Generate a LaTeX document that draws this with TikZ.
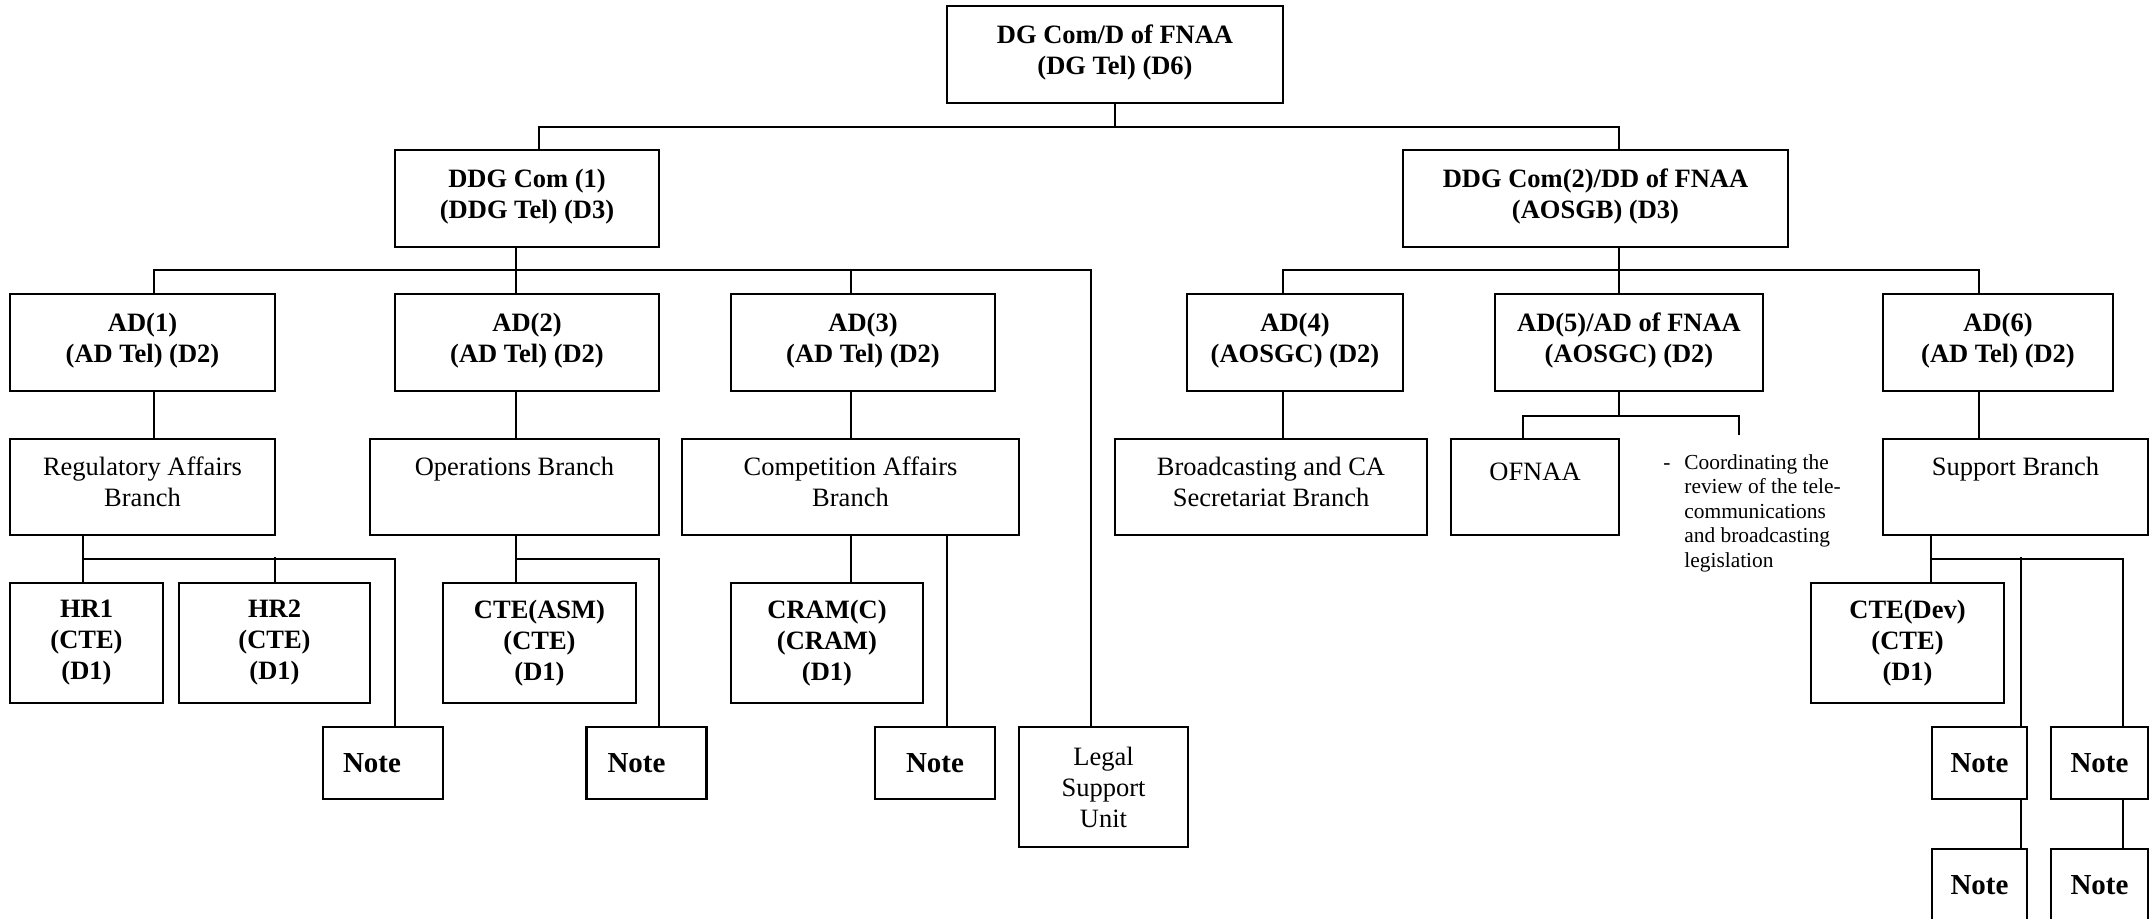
\documentclass[tikz,border=0pt]{standalone}
\usepackage{fontspec}
\setmainfont{Liberation Serif}
\usetikzlibrary{arrows, positioning}

\begin{document}
\begin{tikzpicture}[x=0.5pt, y=-0.5pt]
	\tikzset {box/.style={draw, line width=1.1pt, align=center, inner sep=0pt, font=\fontsize{13.25}{15.5}\selectfont}, head/.style={box, font=\fontsize{13.25}{15.5}\selectfont\bfseries, minimum height=48.5pt, execute at end node=\rule[-4.6pt]{0pt}{4.6pt}}, branch/.style={box, minimum height=48pt, execute at end node=\rule[-5.5pt]{0pt}{5.5pt}}, post/.style={box, font=\fontsize{13.25}{15.5}\selectfont\bfseries, minimum height=60pt}, note/.style={box, minimum width=60pt, minimum height=36pt, font=\fontsize{14.5}{17}\selectfont\bfseries}, link/.style={line width=0.75pt}, node distance=24pt}

	\useasboundingbox (0,0) rectangle (2152,919);

	\node[head, minimum width=168pt] (dg) at (1115,54.5) {DG Com/D of FNAA\\(DG Tel) (D6)};
	\node[head, minimum width=132pt] (ddg1) at (527,198.5) {DDG Com (1)\\(DDG Tel) (D3)};
	\node[head, minimum width=192.5pt] (ddg2) at (1595.5,198.5) {DDG Com(2)/DD of FNAA\\(AOSGB) (D3)};

	\node[head, minimum width=132.5pt] (ad1) at (142.5,342.5) {AD(1)\\(AD Tel) (D2)};
	\node[head, minimum width=132pt] (ad2) at (527,342.5) {AD(2)\\(AD Tel) (D2)};
	\node[head, minimum width=132pt] (ad3) at (863,342.5) {AD(3)\\(AD Tel) (D2)};
	\node[head, minimum width=108pt] (ad4) at (1295,342.5) {AD(4)\\(AOSGC) (D2)};
	\node[head, minimum width=134pt] (ad5) at (1629,342.5) {AD(5)/AD of FNAA\\(AOSGC) (D2)};
	\node[head, minimum width=115pt] (ad6) at (1998,342.5) {AD(6)\\(AD Tel) (D2)};

	\node[branch, minimum width=132.5pt] (rab) at (142.5,487) {Regulatory Affairs\\Branch};
	\node[branch, minimum width=144.5pt] (opb) at (514.5,487) {Operations Branch\\\phantom{Branch}};
	\node[branch, minimum width=168.5pt] (cab) at (850.5,487) {Competition Affairs\\Branch};
	\node[branch, minimum width=156pt] (bcb) at (1271,487) {Broadcasting and CA\\Secretariat Branch};
	\node[box, minimum width=84pt, minimum height=48pt] (ofnaa) at (1535,487) {OFNAA\\\phantom{OFNAA}};
	\node[branch, minimum width=132.5pt] (spb) at (2015.5,487) {Support Branch\\\phantom{Branch}};
	\node[anchor=north west, align=left, inner sep=0pt, font=\fontsize{10.7}{12.25}\selectfont] (duties) at (1684,454) {\llap{-\hspace{7pt}}Coordinating the\\review of the tele-\\communications\\and broadcasting\\legislation};

	\node[post, minimum width=76.5pt] (hr1) at (86.5,643) {HR1\\(CTE)\\(D1)};
	\node[post, minimum width=95.5pt] (hr2) at (274.5,643) {HR2\\(CTE)\\(D1)};
	\node[post, minimum width=96.5pt] (asm) at (539.5,643) {CTE(ASM)\\(CTE)\\(D1)};
	\node[post, minimum width=96pt] (cram) at (827,643) {CRAM(C)\\(CRAM)\\(D1)};
	\node[post, minimum width=96.5pt] (dev) at (1907.5,643) {CTE(Dev)\\(CTE)\\(D1)};

	\node[note] (n1) at (383,763) {Note\hspace*{11pt}};
	\node[note] (n2) at (646.5,763) {Note\hspace*{10pt}};
	\node[note] (n3) at (935,763) {Note};
	\node[note, minimum width=47.5pt] (n4) at (1979.5,763) {Note};
	\node[note, minimum width=48.5pt] (n5) at (2099.5,763) {Note};
	\node[note, minimum width=47.5pt, below=of n4] (n6) {Note};
	\node[note, minimum width=48.5pt, below=of n5] (n7) {Note};
	\node[box, minimum width=84.5pt, minimum height=60pt] (lsu) at (1103.5,787) {Legal\\Support\\Unit};
	\coordinate (duty) at (1739,435);

	\draw[link] (dg.south) -- ++(0,23) -| ([xshift=6pt]ddg1.north);
	\draw[link] (dg.south) -- ++(0,23) -| ([xshift=11.75pt]ddg2.north);

	\draw[link] ([xshift=-5.5pt]ddg1.south) -- ([xshift=-5.5pt]ad2.north);
	\draw[link] ([xshift=5.75pt]ad1.north) -- ++(0,-23) -| ([xshift=-6.25pt]lsu.north);
	\draw[link] ([xshift=-6pt]ad3.north) -- ++(0,-23);
	\draw[link] ([xshift=11.75pt]ddg2.south) -- ([xshift=-5pt]ad5.north);
	\draw[link] ([xshift=-6pt]ad4.north) -- ++(0,-23) -| ([xshift=-9.5pt]ad6.north);

	\draw[link] ([xshift=5.75pt]ad1.south) -- ([xshift=5.75pt]rab.north);
	\draw[link] ([xshift=-5.5pt]ad2.south) -- ([xshift=-5.5pt]ad2.south |- opb.north);
	\draw[link] ([xshift=-6pt]ad3.south) -- ([xshift=-6pt]ad3.south |- cab.north);
	\draw[link] ([xshift=-6pt]ad4.south) -- ([xshift=-6pt]ad4.south |- bcb.north);
	\draw[link] ([xshift=-5pt]ad5.south) -- ++(0,24) -| ([xshift=-6pt]ofnaa.north);
	\draw[link] ([xshift=-5pt]ad5.south) -- ++(0,24) -| (duty);
	\draw[link] ([xshift=-9.5pt]ad6.south) -- ([xshift=-9.5pt]ad6.south |- spb.north);

	\draw[link] ([xshift=-29.75pt]rab.south) -- ++(0,23) -| ([xshift=6pt]n1.north);
	\draw[link] ([xshift=-1.75pt]hr1.north) -- ++(0,-25);
	\draw[link] ([xshift=0.25pt]hr2.north) -- ++(0,-25);
	\draw[link] ([xshift=0.75pt]opb.south) -- ++(0,23) -| ([xshift=6.25pt]n2.north);
	\draw[link] ([xshift=-11.75pt]asm.north) -- ++(0,-25);
	\draw[link] ([xshift=12pt]cram.north) -- ([xshift=12pt]cram.north |- cab.south);
	\draw[link] ([xshift=6pt]n3.north) -- ([xshift=6pt]n3.north |- cab.south);
	\draw[link] ([xshift=-42.25pt]spb.south) -- ([xshift=11.75pt]dev.north);
	\draw[link] ([xshift=-42.25pt]spb.south) ++(0,23) -| ([xshift=11.75pt]n5.north);
	\draw[link] ([xshift=20.75pt]n4.north) -- ++(0,-169);
	\draw[link] ([xshift=20.75pt]n4.south) -- ([xshift=20.75pt]n6.north);
	\draw[link] ([xshift=11.75pt]n5.south) -- ([xshift=11.75pt]n7.north);
\end{tikzpicture}
\end{document}
